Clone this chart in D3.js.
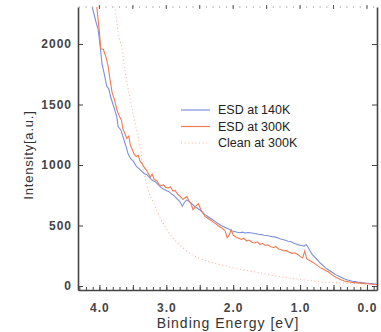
<!DOCTYPE html>
<html>
<head>
<meta charset="utf-8">
<script src="https://cdn.jsdelivr.net/npm/d3@7"></script>
<style>
  body { margin: 0; background: #fff; }
  svg { display: block; font-family: 'Liberation Sans', Arial, sans-serif; }
  .tick text { fill: #444; font-size: 12px; font-weight: bold; letter-spacing: 1px; }
  .axis path, .axis line { stroke: #444; }
</style>
</head>
<body>
<div id="chart"></div>
<script>
// binding energy (eV) / intensity pairs
var esd140E = [4.15, 4.11, 4.05, 4.02, 3.99, 3.96, 3.93, 3.89, 3.86, 3.83, 3.79, 3.74, 3.72, 3.68, 3.64, 3.60, 3.57, 3.53, 3.49, 3.45, 3.41, 3.37, 3.33, 3.29, 3.24, 3.20, 3.16, 3.12, 3.08, 3.04, 3.00, 2.96, 2.92, 2.88, 2.84, 2.80, 2.76, 2.73, 2.70, 2.66, 2.62, 2.58, 2.54, 2.50, 2.46, 2.42, 2.38, 2.34, 2.30, 2.26, 2.22, 2.18, 2.14, 2.10, 2.06, 2.02, 1.98, 1.94, 1.90, 1.86, 1.82, 1.78, 1.74, 1.70, 1.66, 1.62, 1.58, 1.54, 1.50, 1.46, 1.42, 1.38, 1.34, 1.30, 1.26, 1.22, 1.18, 1.14, 1.10, 1.06, 1.02, 0.98, 0.94, 0.91, 0.88, 0.85, 0.82, 0.78, 0.74, 0.70, 0.66, 0.62, 0.58, 0.54, 0.50, 0.46, 0.42, 0.38, 0.34, 0.30, 0.26, 0.22, 0.18, 0.14, 0.10, 0.06, 0.02, -0.02, -0.06, -0.10, -0.14];
var esd140I = [2400, 2313, 2180, 2123, 1990, 1833, 1760, 1650, 1630, 1560, 1490, 1400, 1318, 1290, 1220, 1150, 1090, 1050, 1030, 990, 970, 950, 930, 920, 890, 870, 860, 835, 815, 800, 790, 780, 760, 745, 720, 700, 660, 690, 710, 700, 680, 660, 645, 630, 608, 590, 575, 560, 545, 530, 515, 500, 490, 480, 470, 455, 450, 445, 440, 445, 438, 442, 440, 436, 432, 428, 425, 420, 418, 414, 408, 406, 398, 390, 384, 378, 370, 368, 355, 348, 340, 335, 330, 342, 320, 290, 262, 238, 215, 190, 170, 150, 135, 120, 105, 92, 80, 70, 60, 52, 46, 40, 36, 32, 30, 27, 24, 22, 20, 18, 14];

var esd300E = [4.10, 4.04, 4.00, 3.98, 3.94, 3.90, 3.87, 3.84, 3.81, 3.77, 3.74, 3.70, 3.67, 3.65, 3.62, 3.59, 3.56, 3.54, 3.51, 3.48, 3.45, 3.42, 3.39, 3.36, 3.33, 3.30, 3.27, 3.24, 3.21, 3.18, 3.14, 3.11, 3.08, 3.04, 3.01, 2.97, 2.94, 2.90, 2.87, 2.83, 2.79, 2.75, 2.72, 2.69, 2.66, 2.63, 2.60, 2.56, 2.52, 2.49, 2.45, 2.42, 2.38, 2.34, 2.30, 2.26, 2.23, 2.20, 2.16, 2.12, 2.09, 2.06, 2.03, 2.00, 1.96, 1.92, 1.88, 1.84, 1.80, 1.76, 1.72, 1.68, 1.64, 1.60, 1.56, 1.52, 1.48, 1.44, 1.40, 1.36, 1.32, 1.28, 1.24, 1.20, 1.16, 1.12, 1.08, 1.04, 1.00, 0.96, 0.93, 0.90, 0.86, 0.82, 0.78, 0.74, 0.70, 0.66, 0.62, 0.58, 0.54, 0.50, 0.46, 0.42, 0.38, 0.34, 0.30, 0.26, 0.22, 0.18, 0.14, 0.10, 0.06, 0.02, -0.02, -0.06, -0.10, -0.15];
var esd300I = [2400, 2313, 2100, 1960, 1955, 1890, 1816, 1700, 1600, 1530, 1459, 1400, 1370, 1300, 1260, 1220, 1240, 1170, 1130, 1090, 1070, 1080, 1030, 1010, 980, 960, 930, 900, 925, 880, 870, 840, 830, 835, 815, 810, 820, 785, 790, 760, 740, 715, 730, 740, 700, 680, 630, 660, 680, 640, 600, 575, 560, 545, 530, 515, 500, 490, 475, 455, 400, 420, 465, 420, 405, 395, 385, 395, 372, 380, 362, 356, 365, 345, 352, 335, 340, 325, 318, 325, 305, 300, 290, 292, 278, 270, 275, 262, 245, 232, 290, 225, 210, 198, 185, 168, 152, 140, 128, 118, 100, 84, 70, 60, 50, 42, 38, 33, 30, 28, 26, 24, 22, 20, 19, 17, 14, 12];

var cleanE = [3.80, 3.77, 3.72, 3.66, 3.62, 3.54, 3.47, 3.39, 3.35, 3.31, 3.27, 3.20, 3.14, 3.05, 2.94, 2.80, 2.65, 2.50, 2.30, 2.15, 2.00, 1.80, 1.64, 1.40, 1.15, 0.90, 0.66, 0.40, 0.15, -0.15];
var cleanI = [2400, 2313, 2098, 1957, 1791, 1542, 1352, 1153, 980, 880, 790, 700, 620, 520, 423, 340, 270, 228, 190, 170, 150, 128, 112, 88, 66, 48, 33, 25, 20, 15];

var seriesNames = ['ESD at 140K', 'ESD at 300K', 'Clean at 300K'];
var seriesColors = ['#7e8ede', '#f27a52', '#f7b2a2'];
var yTicks = [0, 500, 1000, 1500, 2000];
var xTickLabels = [4.0, 3.0, 2.0, 1.0, 0.0];

var W = 381, H = 332;
var plotLeft = 78, plotRight = 377, plotTop = 7, plotBottom = 290;

var svg = d3.select('#chart').append('svg').attr('width', W).attr('height', H);

var x = d3.scaleLinear().domain([4.32, -0.15]).range([plotLeft, plotRight]);
var y = d3.scaleLinear().domain([-33, 2306]).range([plotBottom, plotTop]);

function pairs(es, is) {
    return es.map(function(e, i) { return { e: e, v: is[i] }; });
}
var series = [pairs(esd140E, esd140I), pairs(esd300E, esd300I), pairs(cleanE, cleanI)];

svg.append('clipPath').attr('id', 'clip')
    .append('rect').attr('x', plotLeft).attr('y', plotTop)
    .attr('width', plotRight - plotLeft).attr('height', plotBottom - plotTop);

var line = d3.line().x(function(d) { return x(d.e); }).y(function(d) { return y(d.v); });
var smooth = d3.line().x(function(d) { return x(d.e); }).y(function(d) { return y(d.v); }).curve(d3.curveMonotoneX);

var plot = svg.append('g').attr('clip-path', 'url(#clip)');
plot.append('path').datum(series[2]).attr('d', smooth)
    .attr('fill', 'none').attr('stroke', seriesColors[2]).attr('stroke-width', 1.1).attr('stroke-dasharray', '1,2.6');
plot.append('path').datum(series[0]).attr('d', line)
    .attr('fill', 'none').attr('stroke', seriesColors[0]).attr('stroke-width', 1.1);
plot.append('path').datum(series[1]).attr('d', line)
    .attr('fill', 'none').attr('stroke', seriesColors[1]).attr('stroke-width', 1.1);

// top edge: only the tick stubs of a cropped axis are visible
var minorTicks = d3.range(43, -2, -1).map(function(d) { return d / 10; });
var majorTicks = d3.range(8, -1, -1).map(function(d) { return d / 2; });
svg.append('g').selectAll('line').data(minorTicks).enter().append('line')
    .attr('x1', function(d) { return x(d); }).attr('x2', function(d) { return x(d); })
    .attr('y1', 6).attr('y2', 8).attr('stroke', '#bbb');
svg.append('g').selectAll('line').data(majorTicks).enter().append('line')
    .attr('x1', function(d) { return x(d); }).attr('x2', function(d) { return x(d); })
    .attr('y1', 5).attr('y2', 9).attr('stroke', '#555');

// bottom axis, ticks inside
svg.append('g').attr('class', 'axis').attr('transform', 'translate(0,' + plotBottom + ')')
    .call(d3.axisBottom(x).tickValues(minorTicks).tickSize(-3).tickSizeOuter(0).tickFormat(''))
    .call(function(g) { g.select('.domain').attr('stroke-width', 1.6); });
svg.append('g').attr('class', 'axis').attr('transform', 'translate(0,' + plotBottom + ')')
    .call(d3.axisBottom(x).tickValues(majorTicks).tickSize(-5).tickSizeOuter(0).tickPadding(13)
        .tickFormat(function(d) { return xTickLabels.indexOf(d) >= 0 ? d3.format('.1f')(d) : ''; }))
    .call(function(g) { g.select('.domain').remove(); });

// left and right axes
svg.append('g').attr('class', 'axis').attr('transform', 'translate(' + plotLeft + ',0)')
    .call(d3.axisLeft(y).tickValues(yTicks).tickSize(-5).tickSizeOuter(0).tickPadding(6).tickFormat(d3.format('d')))
    .call(function(g) { g.select('.domain').attr('stroke-width', 1.6); });
svg.append('g').attr('class', 'axis').attr('transform', 'translate(' + plotRight + ',0)')
    .call(d3.axisRight(y).tickValues(yTicks).tickSize(-5).tickSizeOuter(0).tickFormat(''))
    .call(function(g) { g.select('.domain').attr('stroke-width', 1.6); });

// axis titles
svg.append('text').attr('x', 228).attr('y', 328).attr('text-anchor', 'middle')
    .style('font-size', '14px').style('letter-spacing', '1px').style('fill', '#333')
    .text('Binding Energy [eV]');
svg.append('text').attr('transform', 'translate(33,155) rotate(-90)').attr('text-anchor', 'middle')
    .style('font-size', '13px').style('letter-spacing', '0.8px').style('fill', '#333')
    .text('Intensity[a.u.]');

// legend
var legend = svg.append('g').selectAll('g').data(seriesNames).enter().append('g')
    .attr('transform', function(d, i) { return 'translate(181,' + (110 + i * 16.5) + ')'; });
legend.append('line').attr('x1', 0).attr('x2', 29).attr('y1', 0).attr('y2', 0)
    .attr('stroke', function(d, i) { return seriesColors[i]; })
    .attr('stroke-width', 1.2)
    .attr('stroke-dasharray', function(d, i) { return i === 2 ? '1,2.6' : null; });
legend.append('text').attr('x', 37).attr('dy', '0.35em')
    .style('font-size', '12.5px').style('fill', '#222')
    .text(function(d) { return d; });
</script>
</body>
</html>
